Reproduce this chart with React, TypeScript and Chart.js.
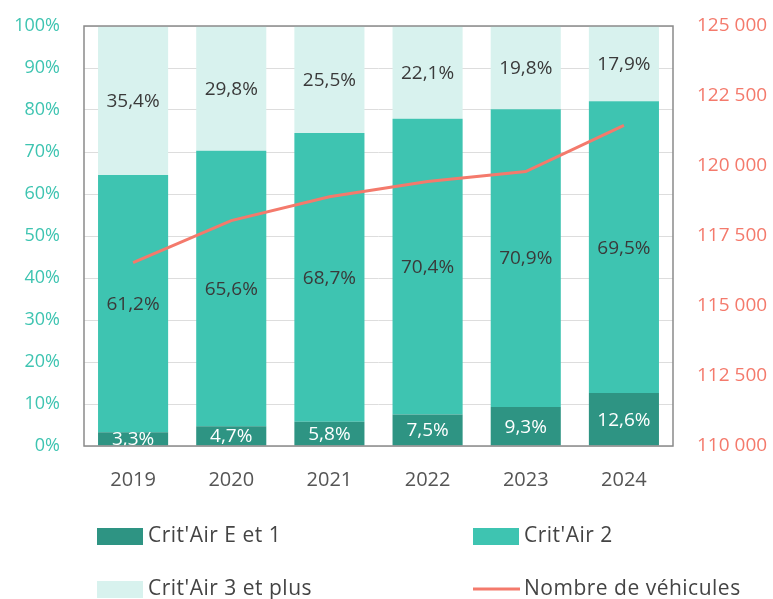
import React, { useEffect, useRef } from "react";
import { Chart, registerables } from "chart.js";

Chart.register(...registerables);

const years = ["2019", "2020", "2021", "2022", "2023", "2024"];
const critAirE1 = [3.3, 4.7, 5.8, 7.5, 9.3, 12.6];
const critAir2 = [61.2, 65.6, 68.7, 70.4, 70.9, 69.5];
const critAir3Plus = [35.4, 29.8, 25.5, 22.1, 19.8, 17.9];
const vehicles = [116550, 118050, 118900, 119450, 119800, 121450];
const seriesNames = ["Crit'Air E et 1", "Crit'Air 2", "Crit'Air 3 et plus", "Nombre de véhicules"];

const FONT = "'Open Sans', Lato, sans-serif";
const C_DARK = "#2e9483";
const C_MID = "#3ec4b1";
const C_LIGHT = "#d8f2ee";
const C_LINE = "#f47a6c";

const fmtPct = (v: number) => v.toFixed(1).replace(".", ",") + "%";
const fmtNum = (v: number) => Math.round(v).toString().replace(/\B(?=(\d{3})+(?!\d))/g, " ");

const labelPlugin = {
  id: "segLabels",
  afterDatasetsDraw(chart: any) {
    const ctx = chart.ctx;
    const area = chart.chartArea;
    ctx.save();
    ctx.beginPath();
    ctx.rect(area.left, area.top, area.right - area.left, area.bottom - area.top);
    ctx.clip();
    ctx.font = `19px ${FONT}`;
    ctx.textAlign = "center";
    ctx.textBaseline = "middle";
    chart.data.datasets.forEach((ds: any, i: number) => {
      if (ds.type === "line") return;
      const meta = chart.getDatasetMeta(i);
      meta.data.forEach((bar: any, j: number) => {
        const v = ds.data[j];
        const y = (bar.y + bar.base) / 2;
        ctx.fillStyle = i === 0 ? "#ffffff" : "#3a3a3a";
        ctx.fillText(fmtPct(v), bar.x, y + 1);
      });
    });
    ctx.restore();
    ctx.save();
    ctx.strokeStyle = "#8a8a8a";
    ctx.lineWidth = 1.5;
    ctx.strokeRect(area.left, area.top, area.right - area.left, area.bottom - area.top);
    ctx.restore();
  },
};

const legendPlugin = {
  id: "gridLegend",
  afterDraw(chart: any) {
    const ctx = chart.ctx;
    const positions = [
      [97, 536],
      [473, 536],
      [97, 589],
      [473, 589],
    ];
    ctx.save();
    ctx.font = `21px ${FONT}`;
    (ctx as any).letterSpacing = "0.5px";
    ctx.textBaseline = "middle";
    ctx.textAlign = "left";
    chart.data.datasets.forEach((ds: any, i: number) => {
      const [x, y] = positions[i];
      if (ds.type === "line") {
        ctx.strokeStyle = ds.borderColor;
        ctx.lineWidth = 3;
        ctx.beginPath();
        ctx.moveTo(x, y);
        ctx.lineTo(x + 47, y);
        ctx.stroke();
      } else {
        ctx.fillStyle = ds.backgroundColor;
        ctx.fillRect(x, y - 8, 46, 17);
      }
      ctx.fillStyle = "#444444";
      ctx.fillText(ds.label, x + 51, y);
    });
    ctx.restore();
  },
};

export default function App() {
  const ref = useRef<HTMLCanvasElement | null>(null);
  useEffect(() => {
    document.body.style.margin = "0";
    const chart = new Chart(ref.current as HTMLCanvasElement, {
      type: "bar",
      data: {
        labels: years,
        datasets: [
          { type: "bar", label: seriesNames[0], data: critAirE1, backgroundColor: C_DARK, order: 1, yAxisID: "y", barPercentage: 0.714, categoryPercentage: 1 },
          { type: "bar", label: seriesNames[1], data: critAir2, backgroundColor: C_MID, order: 1, yAxisID: "y", barPercentage: 0.714, categoryPercentage: 1 },
          { type: "bar", label: seriesNames[2], data: critAir3Plus, backgroundColor: C_LIGHT, order: 1, yAxisID: "y", barPercentage: 0.714, categoryPercentage: 1 },
          { type: "line", label: seriesNames[3], data: vehicles, borderColor: C_LINE, backgroundColor: C_LINE, borderWidth: 3, pointRadius: 0, tension: 0, order: 0, yAxisID: "y1" } as any,
        ],
      },
      options: {
        animation: false,
        responsive: false,
        maintainAspectRatio: false,
        layout: { padding: { top: 26, left: 0, right: 0, bottom: 0 } },
        plugins: { legend: { display: false }, tooltip: { enabled: false } },
        scales: {
          x: {
            stacked: true,
            grid: { display: false, drawTicks: false },
            border: { display: false },
            ticks: { color: "#555555", font: { size: 20, family: FONT }, padding: 22 },
            afterFit: (s: any) => { s.height = 153; s.paddingLeft = 0; s.paddingRight = 0; },
          },
          y: {
            stacked: true,
            position: "left",
            min: 0,
            max: 100,
            grid: { color: "#dddddd", drawTicks: false },
            border: { display: false },
            ticks: { stepSize: 10, color: "#3ec4b1", font: { size: 18, family: FONT }, padding: 24, callback: (v: any) => v + "%" },
            afterFit: (s: any) => { s.width = 84; s.paddingTop = 0; s.paddingBottom = 0; },
          },
          y1: {
            position: "right",
            min: 110000,
            max: 125000,
            grid: { display: false, drawTicks: false },
            border: { display: false },
            ticks: { stepSize: 2500, color: C_LINE, font: { size: 19, family: FONT }, padding: 24, callback: (v: any) => fmtNum(v) },
            afterFit: (s: any) => { s.width = 100; s.paddingTop = 0; s.paddingBottom = 0; },
          },
        },
      },
      plugins: [labelPlugin, legendPlugin],
    } as any);
    return () => chart.destroy();
  }, []);
  return (
    <div style={{ width: 773, height: 599, background: "#ffffff" }}>
      <canvas ref={ref} width={773} height={599} style={{ width: 773, height: 599, display: "block" }} />
    </div>
  );
}
